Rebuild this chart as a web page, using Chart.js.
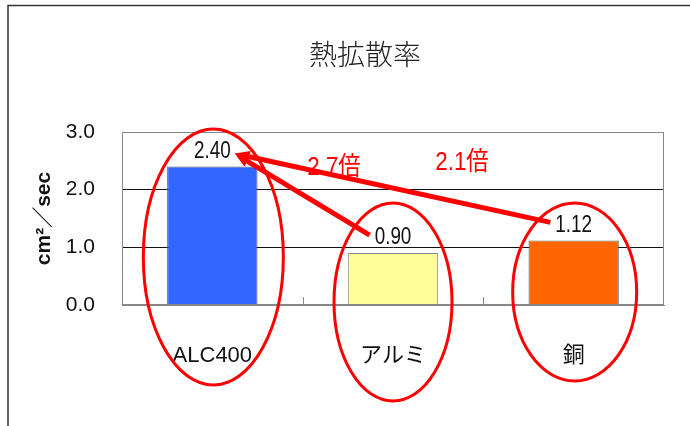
<!DOCTYPE html>
<html>
<head>
<meta charset="utf-8">
<script src="https://cdn.jsdelivr.net/npm/chart.js@4"></script>
<style>
    html, body { margin: 0; padding: 0; background: #fff; }
    #wrap { width: 690px; height: 426px; }
</style>
</head>
<body>
<div id="wrap"><canvas id="myChart" width="690" height="426"></canvas></div>
<script>
const categories = ["ALC400", "アルミ", "銅"]
const values = [2.40, 0.90, 1.12]
const valueLabels = ["2.40", "0.90", "1.12"]
const yTicks = [0, 1, 2, 3]
const ratioLabels = ["2.7倍", "2.1倍"]

const barColors = ['#3366FF', '#FFFF99', '#FF6600']
const barBorders = ['#555555', '#888888', '#666666']
const narrow = "'Liberation Sans Narrow', 'Liberation Sans', 'Noto Sans CJK JP', sans-serif"
const cjk = "'Noto Sans CJK JP', sans-serif"

// red circles around each bar, offsets from the category centre / axis bottom
const rings = [
    { dx: 1, dy: -48, rx: 70, ry: 128 },
    { dx: 0, dy: -3, rx: 59, ry: 99 },
    { dx: 1, dy: -13, rx: 62, ry: 89 }
]
// ratio texts, offsets from the chart area top-left
const ratioPos = [
    { dx: 212, dy: 36 },
    { dx: 340, dy: 31 }
]

// draw text squeezed horizontally, like the narrow font of the original
function fillNarrow(ctx, text, x, y, sx) {
    ctx.save()
    ctx.translate(x, y)
    ctx.scale(sx, 1)
    ctx.fillText(text, 0, 0)
    ctx.restore()
    return ctx.measureText(text).width * sx
}

const decorations = {
    id: 'decorations',
    beforeDraw(chart) {
        const ctx = chart.ctx
        ctx.save()
        ctx.fillStyle = '#fff'
        ctx.fillRect(0, 0, chart.width, chart.height)
        // outer frame
        ctx.strokeStyle = '#333'
        ctx.lineWidth = 1.5
        ctx.strokeRect(8, 5.5, chart.width + 20, chart.height + 20)
        ctx.restore()
    },
    afterDatasetsDraw(chart) {
        const ctx = chart.ctx
        const area = chart.chartArea
        const x = chart.scales.x
        const y = chart.scales.y
        const meta = chart.getDatasetMeta(0)
        ctx.save()

        // plot frame
        ctx.strokeStyle = '#888'
        ctx.lineWidth = 1
        ctx.strokeRect(area.left + 0.5, area.top + 0.5, area.width - 1, area.height - 1)

        // small category ticks inside the plot
        ctx.beginPath()
        for (let i = 1; i < categories.length; i++) {
            const px = Math.round((x.getPixelForValue(i - 1) + x.getPixelForValue(i)) / 2) + 0.5
            ctx.moveTo(px, area.bottom)
            ctx.lineTo(px, area.bottom - 8)
        }
        ctx.stroke()

        // title
        ctx.fillStyle = '#222'
        ctx.font = '300 28px ' + cjk
        ctx.textAlign = 'center'
        ctx.textBaseline = 'middle'
        ctx.fillText('熱拡散率', (area.left + area.right) / 2 - 28, 54)

        // value labels
        ctx.font = '23px ' + narrow
        ctx.fillStyle = '#111'
        const boxes = []
        meta.data.forEach((bar, i) => {
            const cy = bar.y - 15
            const w = fillNarrow(ctx, valueLabels[i], bar.x, cy, 0.82)
            boxes.push({ left: bar.x - w / 2, right: bar.x + w / 2, cy: cy })
        })

        // ellipses
        ctx.strokeStyle = '#FF0000'
        ctx.lineWidth = 3
        rings.forEach((r, i) => {
            ctx.beginPath()
            ctx.ellipse(x.getPixelForValue(i) + r.dx, y.getPixelForValue(0) + r.dy, r.rx, r.ry, 0, 0, Math.PI * 2)
            ctx.stroke()
        })

        // arrows to the first bar's label
        const tipX = boxes[0].right + 4
        const tipY = boxes[0].cy + 2
        ctx.lineWidth = 5
        ctx.lineCap = 'butt'
        ctx.fillStyle = '#FF0000'
        for (let i = 1; i < boxes.length; i++) {
            const sx = boxes[i].left - 5
            const sy = boxes[i].cy - 3
            const ang = Math.atan2(tipY - sy, tipX - sx)
            const head = 15
            const bx = tipX - head * Math.cos(ang)
            const by = tipY - head * Math.sin(ang)
            ctx.beginPath()
            ctx.moveTo(sx, sy)
            ctx.lineTo(bx, by)
            ctx.stroke()
            ctx.beginPath()
            ctx.moveTo(tipX, tipY)
            ctx.lineTo(bx + 6 * Math.sin(ang), by - 6 * Math.cos(ang))
            ctx.lineTo(bx - 6 * Math.sin(ang), by + 6 * Math.cos(ang))
            ctx.closePath()
            ctx.fill()
        }

        // ratio texts
        ctx.font = '26px ' + narrow
        ctx.fillStyle = '#FF0000'
        ratioLabels.forEach((t, i) => {
            fillNarrow(ctx, t, area.left + ratioPos[i].dx, area.top + ratioPos[i].dy, 0.86)
        })
        ctx.restore()
    }
}

new Chart("myChart", {
    type: "bar",
    data: {
        labels: categories,
        datasets: [{
            data: values,
            backgroundColor: barColors,
            borderColor: barBorders,
            borderWidth: 1,
            barPercentage: 0.5,
            categoryPercentage: 1.0
        }]
    },
    options: {
        responsive: false,
        animation: false,
        events: [],
        layout: {
            padding: { left: 32, right: 26, top: 132, bottom: 0 }
        },
        scales: {
            x: {
                afterFit(scale) { scale.height = 121 },
                grid: { display: false },
                border: { color: '#888' },
                ticks: {
                    padding: 30,
                    color: '#111',
                    font: { family: narrow, size: 22 }
                }
            },
            y: {
                min: 0,
                max: 3,
                afterFit(scale) { scale.width = 90 },
                afterBuildTicks(scale) { scale.ticks = yTicks.map(v => ({ value: v })) },
                grid: {
                    drawTicks: false,
                    color: ctx => (ctx.tick.value === 0 || ctx.tick.value === 3) ? '#888' : '#111'
                },
                border: { color: '#888' },
                ticks: {
                    padding: 27,
                    color: '#111',
                    font: { family: narrow, size: 21 },
                    callback: v => v.toFixed(1)
                },
                title: {
                    display: true,
                    text: 'cm²／sec',
                    padding: 0,
                    color: '#111',
                    font: { family: "'Liberation Sans', 'Noto Sans CJK JP', sans-serif", size: 21, weight: 'bold' }
                }
            }
        },
        plugins: {
            legend: { display: false },
            tooltip: { enabled: false }
        }
    },
    plugins: [decorations]
})
</script>
</body>
</html>
